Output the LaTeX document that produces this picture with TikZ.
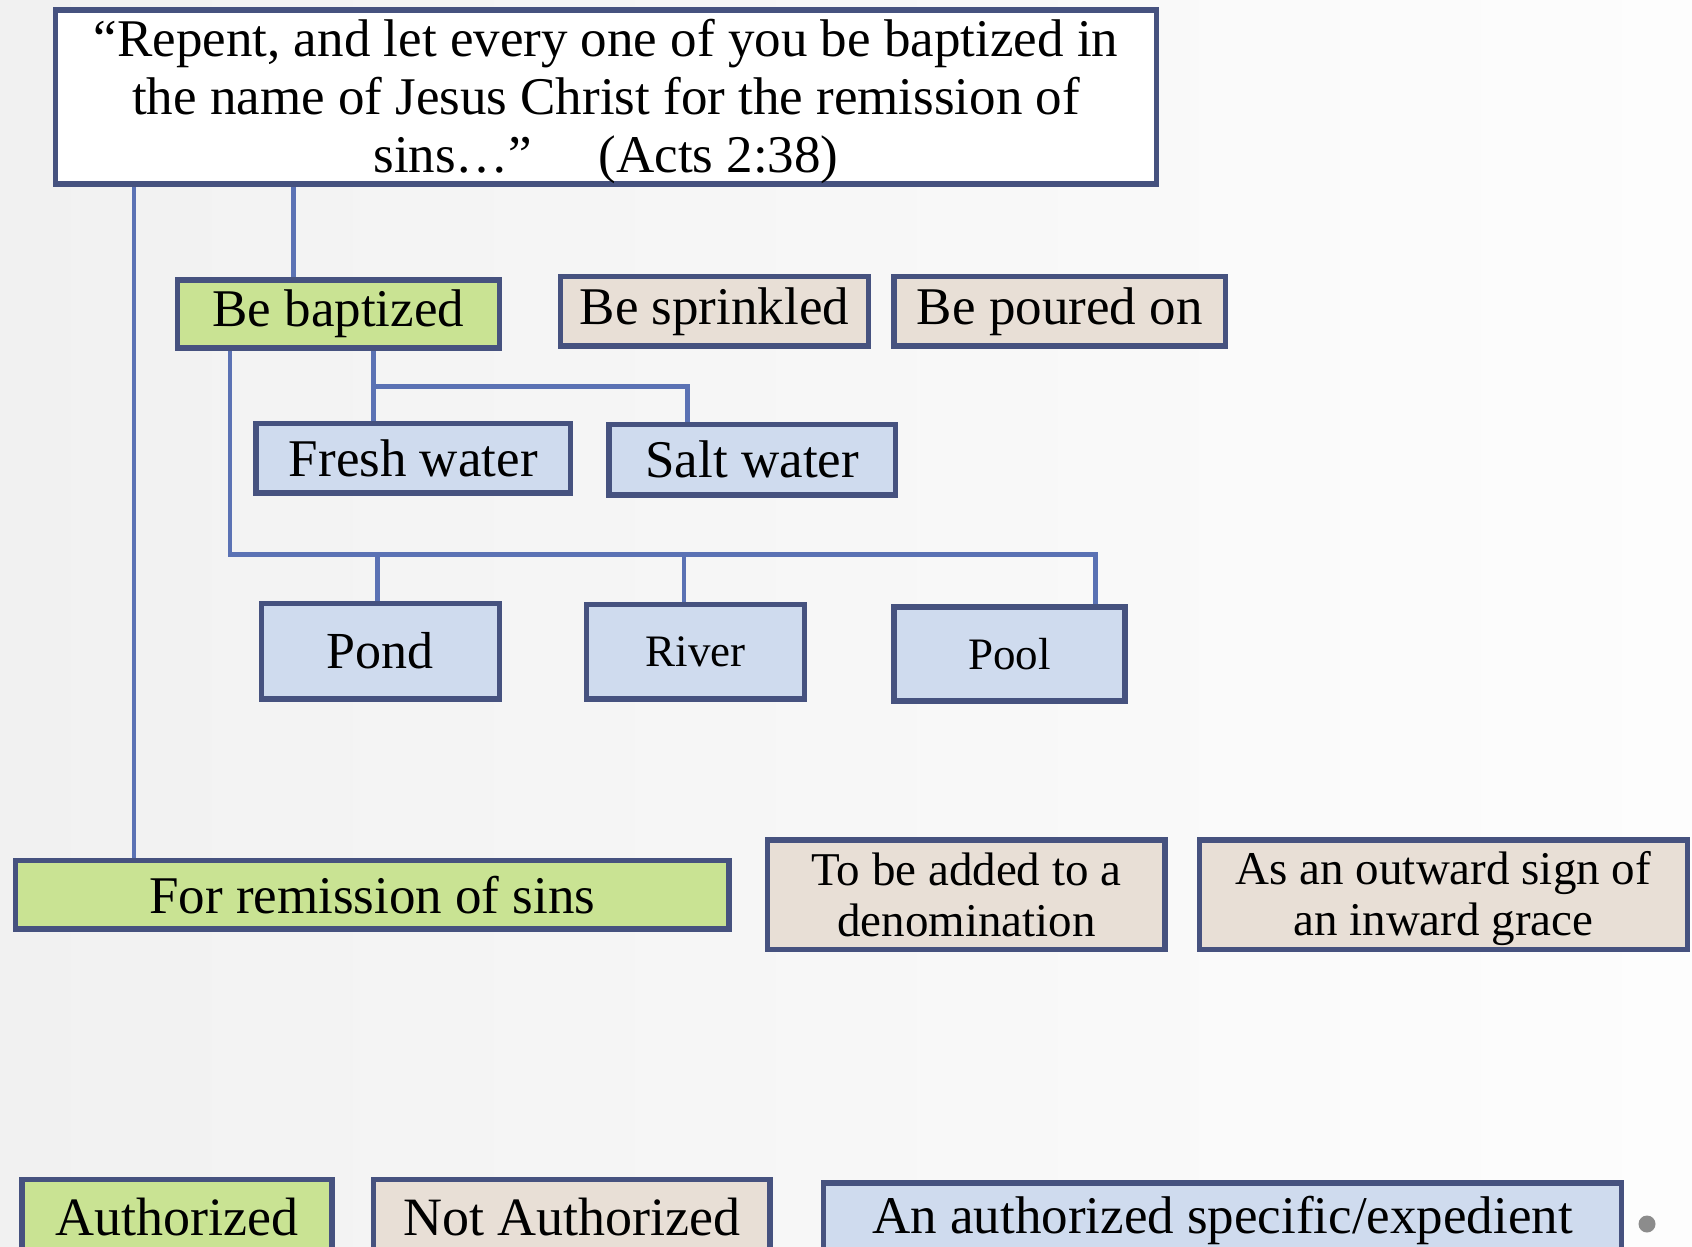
\documentclass[tikz,border=0pt]{standalone}
\usepackage{fontspec}
\setmainfont{Liberation Serif}
\definecolor{bordc}{HTML}{46527F}
\definecolor{connc}{HTML}{5B72B4}
\definecolor{greenf}{HTML}{C9E393}
\definecolor{bluef}{HTML}{CFDBEE}
\definecolor{beigef}{HTML}{E8DFD6}
\definecolor{bgl}{HTML}{F1F1F1}
\definecolor{bgr}{HTML}{FDFDFD}
\definecolor{dotc}{HTML}{8C8C8C}
\pgfdeclarelayer{back}
\pgfsetlayers{back,main}
\tikzset{
  box/.style={draw=bordc, line width=5.5pt, rectangle, inner sep=0pt, align=center, text=black,
    font=\fontsize{53}{58}\selectfont},
  gbox/.style={box, fill=greenf},
  bbox/.style={box, fill=bluef},
  ebox/.style={box, fill=beigef},
  wbox/.style={box, fill=white},
  small/.style={font=\fontsize{47}{51}\selectfont},
  conn/.style={draw=connc, line width=4.5pt},
}
\begin{document}
\begin{tikzpicture}[x=1pt,y=-1pt]
\useasboundingbox (0,0) rectangle (1692,1247);
\begin{pgfonlayer}{back}
  \fill[left color=bgl, right color=bgr] (0,0) rectangle (1692,1247);
\end{pgfonlayer}
\clip (0,0) rectangle (1692,1247);

\node[wbox, minimum width=1101pt, minimum height=174pt, font=\fontsize{53}{58}\selectfont] (top) at (606,97.2)
  {\raisebox{-4.5pt}[\height][\depth]{\parbox{1090pt}{\centering“Repent, and let every one of you be baptized in\\the name of Jesus Christ for the remission of\\sins…”\quad\ (Acts 2:38)}}};

\node[gbox, minimum width=322pt, minimum height=68.4pt] (bapt) at (338.3,314) {Be baptized};
\node[ebox, minimum width=308pt, minimum height=69.5pt] (sprink) at (714.4,311.4) {Be sprinkled};
\node[ebox, minimum width=331.7pt, minimum height=69.5pt] (poured) at (1059.7,311.4) {Be poured on};

\node[bbox, minimum width=314.4pt, minimum height=69.5pt] (fresh) at (413.3,458) {Fresh water};
\node[bbox, minimum width=286.3pt, minimum height=70.6pt] (salt) at (752.2,459.7) {Salt water};

\node[bbox, minimum width=237.8pt, minimum height=95.4pt, font=\fontsize{52}{58}\selectfont] (pond) at (380.4,651.2) {Pond};
\node[bbox, small, minimum width=218.4pt, minimum height=94.3pt, font=\fontsize{45}{51}\selectfont] (river) at (695.5,651.8) {River};
\node[bbox, small, minimum width=231.4pt, minimum height=94.3pt, font=\fontsize{45}{51}\selectfont] (pool) at (1009.5,654) {Pool};

\node[gbox, minimum width=713.7pt, minimum height=68.4pt] (rem) at (372.3,894.6) {For remission of sins};
\node[ebox, small, minimum width=397.5pt, minimum height=109.4pt] (added) at (966.4,894.6) {To be added to a\\denomination};
\node[ebox, small, minimum width=488.3pt, minimum height=109.4pt] (outward) at (1443.4,894.6) {\raisebox{-4pt}[\height][\depth]{\parbox{480pt}{\centering As an outward sign of\\an inward grace}}};

\node[gbox, minimum width=310pt, minimum height=74pt, font=\fontsize{54}{58}\selectfont] (auth) at (177,1216.7) {Authorized};
\node[ebox, minimum width=396.4pt, minimum height=74pt, font=\fontsize{54}{58}\selectfont] (notauth) at (571.9,1216.7) {Not Authorized};
\node[bbox, minimum width=797.8pt, minimum height=70pt] (exped) at (1222.6,1218) {\raisebox{-2pt}[\height][\depth]{An authorized specific/expedient}};

\node[circle, fill=dotc, inner sep=0pt, minimum size=17pt] (dot) at (1647,1224) {};

\coordinate (x1) at (133.8,0);
\coordinate (x2) at (293.5,0);
\coordinate (x3) at (373.4,0);
\coordinate (x3b) at (687.4,386.3);
\coordinate (x4) at (229.8,0);
\coordinate (x4b) at (1095.3,554.7);
\coordinate (x5) at (377.7,0);
\coordinate (x6) at (684.1,0);

\begin{pgfonlayer}{back}
  \draw[conn] (top.south -| x1) -- (rem.north -| x1);
  \draw[conn] (top.south -| x2) -- (bapt.north -| x2);
  \draw[conn] (bapt.south -| x3) -- (fresh.north -| x3);
  \draw[conn] (x3b -| x3) -- (x3b) -- (salt.north -| x3b);
  \draw[conn] (bapt.south -| x4) -- (x4b -| x4) -- (x4b) -- (pool.north -| x4b);
  \draw[conn] (x4b -| x5) -- (pond.north -| x5);
  \draw[conn] (x4b -| x6) -- (river.north -| x6);
\end{pgfonlayer}
\end{tikzpicture}
\end{document}
